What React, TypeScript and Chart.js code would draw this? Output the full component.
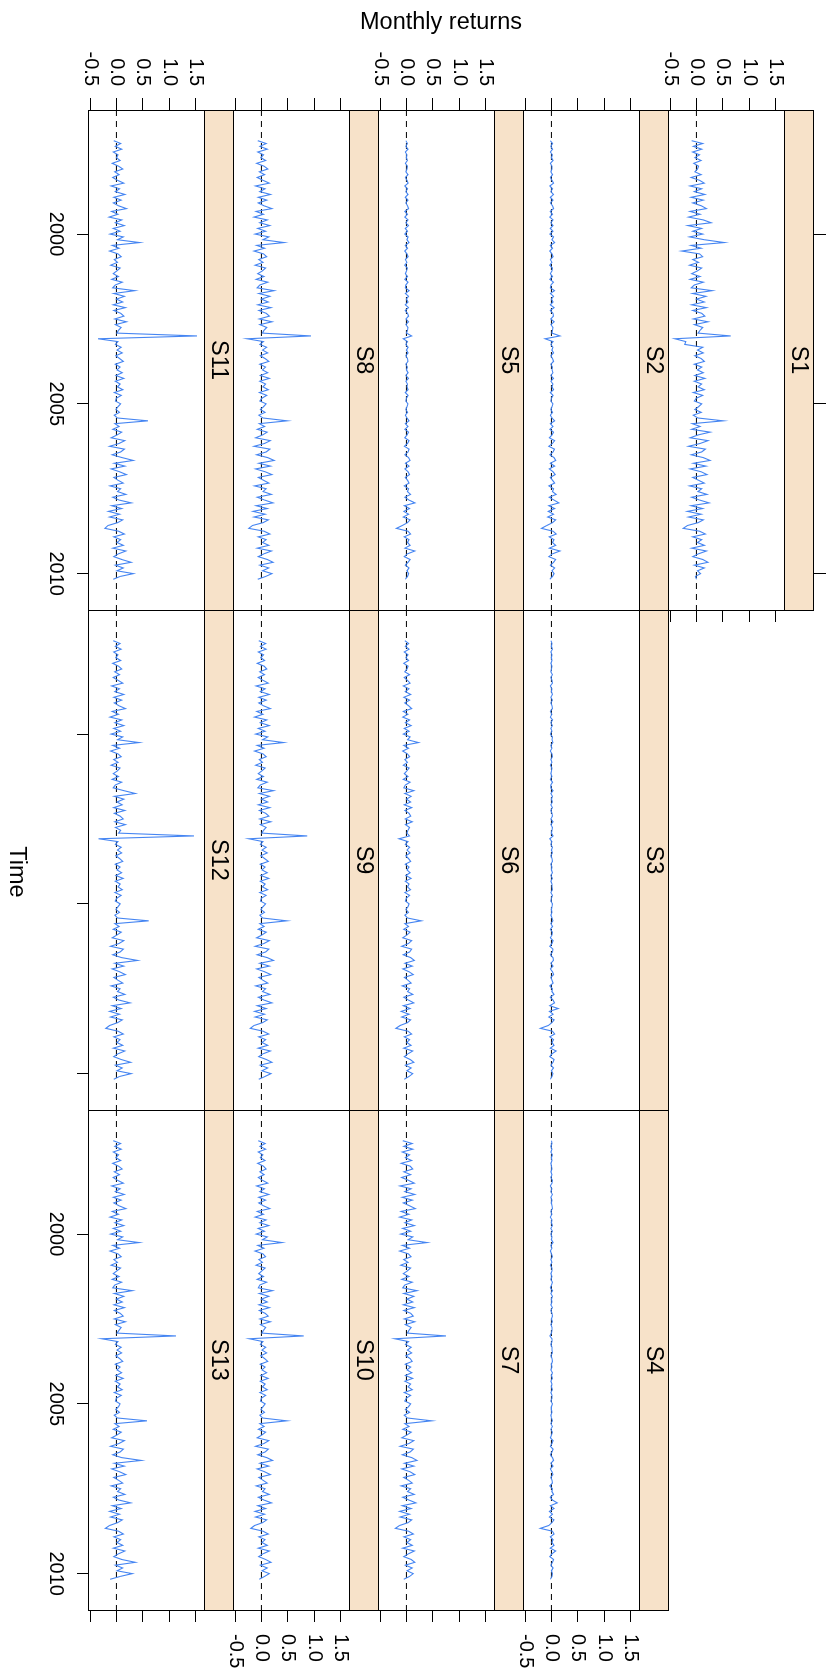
import React, { useEffect, useRef } from "react";
import { Chart, registerables } from "chart.js";

Chart.register(...registerables);

// Monthly observations, April 1997 onwards (time in decimal years)
const START_TIME = 1997.25;
const PER_YEAR = 12;

const TIME_LIMITS = [1996.346, 2011.071];
const RETURN_LIMITS = [-0.52, 1.68];

const YEAR_TICKS = [2000, 2005, 2010];
const YEAR_TICK_LABELS = ["2000", "2005", "2010"];
const RETURN_TICKS = [-0.5, 0, 0.5, 1, 1.5];
const RETURN_TICK_LABELS = ["-0.5", "0.0", "0.5", "1.0", "1.5"];

const X_TITLE = "Time";
const Y_TITLE = "Monthly returns";

const SERIES_NAMES = ["S1", "S2", "S3", "S4", "S5", "S6", "S7", "S8", "S9", "S10", "S11", "S12", "S13"];

// one row per year, April to March
const S1 = [
  -0.09, 0.12, -0.06, 0.10, -0.07, 0.06, -0.03, 0.09, -0.05, 0.04, 0.02, -0.03,
  0.09, -0.10, 0.06, 0.15, -0.12, 0.10, -0.04, 0.16, -0.10, 0.13, -0.07, 0.09,
  0.19, -0.12, 0.07, -0.15, 0.13, 0.28, -0.16, 0.10, -0.07, 0.12, -0.13, 0.15,
  0.53, -0.10, 0.09, -0.28, 0.06, 0.12, -0.07, 0.04, -0.13, 0.10, 0.02, -0.09,
  0.07, -0.12, 0.13, -0.04, -0.10, 0.30, -0.07, 0.18, 0.00, 0.15, -0.09, 0.19,
  -0.07, 0.10, 0.16, -0.06, 0.22, -0.04, 0.12, 0.07, 0.03, 0.65, -0.41, -0.20,
  -0.22, 0.12, 0.02, 0.13, -0.03, 0.09, 0.15, -0.04, 0.10, 0.02, 0.13, -0.03,
  0.16, -0.04, 0.10, 0.03, 0.15, -0.06, 0.12, 0.00, -0.04, 0.10, 0.04, -0.03,
  0.09, -0.06, 0.03, 0.51, -0.08, 0.07, -0.09, 0.26, 0.03, -0.12, 0.22, 0.07,
  -0.15, 0.17, 0.10, -0.10, 0.13, 0.26, -0.06, 0.18, -0.12, 0.09, 0.20, -0.07,
  0.04, 0.15, -0.13, 0.10, 0.03, 0.20, -0.09, 0.06, 0.24, -0.10, 0.12, -0.17,
  0.09, -0.15, 0.13, 0.03, -0.17, -0.25, 0.06, 0.17, -0.07, 0.10, 0.02, 0.15,
  -0.09, 0.19, 0.04, -0.07, 0.12, 0.22, -0.04, 0.15, 0.02, 0.08, -0.02, 0.00,
];
const S2 = [
  -0.02, 0.02, -0.01, 0.02, -0.02, 0.02, 0.00, 0.03, -0.02, 0.01, 0.01, -0.01,
  0.02, -0.02, 0.01, 0.04, -0.03, 0.02, -0.01, 0.04, -0.02, 0.03, -0.02, 0.02,
  0.04, -0.02, 0.02, -0.03, 0.03, -0.01, 0.03, -0.02, 0.03, -0.03, 0.04, 0.01,
  0.06, -0.02, 0.02, -0.03, 0.01, 0.03, -0.02, 0.01, -0.03, 0.02, 0.01, -0.02,
  0.02, -0.03, 0.04, -0.01, -0.02, 0.06, -0.02, 0.04, 0.00, 0.03, -0.02, 0.05,
  -0.02, 0.03, 0.04, -0.01, 0.05, -0.01, 0.03, 0.02, 0.01, 0.16, -0.12, 0.03,
  -0.01, 0.03, 0.01, 0.04, -0.01, 0.02, 0.04, -0.01, 0.02, 0.01, 0.03, -0.01,
  0.04, -0.01, 0.03, 0.01, 0.04, -0.02, 0.03, 0.00, -0.01, 0.03, 0.01, -0.01,
  0.02, -0.02, 0.01, 0.06, -0.02, 0.03, -0.03, 0.04, 0.01, -0.04, 0.06, 0.02,
  -0.05, 0.06, 0.03, -0.03, 0.05, 0.08, -0.02, 0.06, -0.04, 0.03, 0.07, -0.02,
  0.02, 0.06, -0.05, 0.04, 0.02, 0.09, -0.04, 0.05, 0.14, -0.05, 0.06, -0.06,
  0.04, -0.07, 0.08, 0.02, -0.09, -0.19, 0.03, 0.09, -0.04, 0.05, 0.02, 0.08,
  -0.04, 0.16, 0.02, -0.05, 0.08, 0.04, -0.02, 0.06, 0.01, 0.05, 0.02, -0.03,
];
const S3 = [
  -0.01, 0.01, 0.00, 0.02, -0.01, 0.01, 0.00, 0.01, -0.01, 0.01, 0.00, -0.01,
  0.02, -0.01, 0.01, 0.02, -0.02, 0.01, 0.00, 0.02, -0.01, 0.02, -0.01, 0.01,
  0.02, -0.02, 0.01, -0.02, 0.02, -0.01, 0.02, -0.01, 0.01, -0.02, 0.02, 0.01,
  0.03, -0.01, 0.01, -0.02, 0.01, 0.02, -0.01, 0.01, -0.02, 0.01, 0.00, -0.01,
  0.01, -0.02, 0.02, -0.01, -0.01, 0.03, -0.01, 0.02, 0.00, 0.02, -0.01, 0.02,
  -0.01, 0.01, 0.02, -0.01, 0.03, -0.01, 0.02, 0.01, 0.00, 0.03, -0.03, 0.01,
  -0.01, 0.02, 0.00, 0.02, -0.01, 0.01, 0.02, -0.01, 0.01, 0.00, 0.02, -0.01,
  0.02, -0.01, 0.01, 0.01, 0.02, -0.01, 0.02, 0.00, -0.01, 0.02, 0.01, 0.00,
  0.01, -0.01, 0.01, 0.03, -0.01, 0.02, -0.02, 0.02, 0.01, -0.02, 0.03, 0.01,
  -0.03, 0.03, 0.02, -0.02, 0.03, 0.04, -0.01, 0.03, -0.02, 0.02, 0.04, -0.01,
  0.01, 0.03, -0.03, 0.02, 0.01, 0.05, -0.02, 0.03, 0.06, -0.03, 0.13, -0.04,
  0.03, -0.05, 0.05, 0.01, -0.06, -0.21, 0.02, 0.06, -0.03, 0.04, 0.01, 0.05,
  -0.02, 0.09, 0.01, -0.03, 0.05, 0.03, -0.01, 0.04, 0.00, 0.03, 0.01, -0.02,
];
const S4 = [
  0.00, 0.01, -0.01, 0.01, -0.01, 0.02, 0.00, 0.01, -0.01, 0.00, 0.01, -0.01,
  0.01, -0.01, 0.02, 0.01, -0.02, 0.01, -0.01, 0.02, -0.01, 0.01, 0.00, 0.01,
  0.02, -0.01, 0.01, -0.02, 0.01, 0.00, 0.02, -0.01, 0.02, -0.01, 0.01, 0.00,
  0.03, -0.01, 0.01, -0.02, 0.00, 0.02, -0.01, 0.01, -0.02, 0.01, 0.01, -0.01,
  0.01, -0.01, 0.02, 0.00, -0.02, 0.02, -0.01, 0.02, 0.00, 0.01, -0.01, 0.02,
  -0.01, 0.01, 0.02, 0.00, 0.02, -0.01, 0.01, 0.01, 0.00, -0.03, 0.01, 0.01,
  -0.01, 0.01, 0.01, 0.02, -0.01, 0.01, 0.02, 0.00, 0.01, -0.01, 0.02, 0.00,
  0.02, -0.01, 0.01, 0.00, 0.02, -0.01, 0.01, 0.01, -0.01, 0.02, 0.00, 0.00,
  0.01, -0.01, 0.00, 0.02, -0.01, 0.02, -0.01, 0.02, 0.00, -0.02, 0.03, 0.01,
  -0.02, 0.03, 0.01, -0.02, 0.02, 0.04, -0.01, 0.03, -0.02, 0.01, 0.03, -0.01,
  0.01, 0.02, -0.03, 0.02, 0.01, 0.04, -0.02, 0.02, 0.11, -0.02, 0.05, -0.04,
  0.02, -0.04, 0.05, 0.01, -0.05, -0.21, 0.02, 0.05, -0.02, 0.03, 0.01, 0.05,
  -0.02, 0.08, 0.01, -0.03, 0.04, 0.02, -0.01, 0.03, 0.00, 0.02, 0.01, -0.02,
];
const S5 = [
  -0.01, 0.02, -0.01, 0.03, -0.02, 0.01, 0.00, 0.02, -0.02, 0.02, 0.01, -0.01,
  0.03, -0.02, 0.01, 0.03, -0.03, 0.02, -0.01, 0.03, -0.02, 0.03, -0.01, 0.02,
  0.04, -0.03, 0.02, -0.03, 0.03, -0.01, 0.04, -0.02, 0.02, -0.03, 0.03, 0.01,
  0.05, -0.02, 0.02, -0.03, 0.01, 0.03, -0.02, 0.01, -0.03, 0.02, 0.00, -0.02,
  0.02, -0.03, 0.03, -0.01, -0.02, 0.05, -0.02, 0.04, 0.00, 0.03, -0.02, 0.04,
  -0.02, 0.02, 0.04, -0.01, 0.04, -0.01, 0.03, 0.02, 0.00, 0.10, -0.06, 0.02,
  -0.01, 0.03, 0.00, 0.03, -0.01, 0.02, 0.03, -0.01, 0.02, 0.00, 0.03, -0.01,
  0.04, -0.01, 0.02, 0.01, 0.03, -0.02, 0.03, 0.00, -0.01, 0.03, 0.01, -0.01,
  0.02, -0.02, 0.01, 0.05, -0.02, 0.03, -0.03, 0.04, 0.01, -0.03, 0.05, 0.02,
  -0.04, 0.05, 0.03, -0.03, 0.04, 0.07, -0.02, 0.05, -0.03, 0.03, 0.06, -0.02,
  0.02, 0.05, -0.04, 0.04, 0.02, 0.08, -0.03, 0.05, 0.16, -0.04, 0.06, -0.05,
  0.04, -0.06, 0.07, 0.02, -0.08, -0.19, 0.03, 0.08, -0.04, 0.05, 0.02, 0.07,
  -0.03, 0.16, 0.02, -0.04, 0.07, 0.03, -0.02, 0.05, 0.01, 0.04, 0.02, -0.02,
];
const S6 = [
  -0.03, 0.04, -0.02, 0.05, -0.04, 0.03, -0.01, 0.04, -0.05, 0.03, 0.01, -0.03,
  0.06, -0.04, 0.02, 0.07, -0.06, 0.05, -0.02, 0.08, -0.05, 0.06, -0.03, 0.04,
  0.10, -0.06, 0.03, -0.07, 0.06, -0.02, 0.09, -0.04, 0.05, -0.06, 0.07, 0.02,
  0.23, -0.05, 0.04, -0.07, 0.02, 0.06, -0.03, 0.02, -0.06, 0.05, 0.01, -0.04,
  0.03, -0.06, 0.07, -0.02, -0.05, 0.14, -0.03, 0.09, 0.00, 0.08, -0.04, 0.10,
  -0.03, 0.05, 0.08, -0.02, 0.11, -0.02, 0.06, 0.03, 0.01, 0.06, -0.14, 0.03,
  -0.02, 0.06, 0.01, 0.07, -0.01, 0.04, 0.08, -0.02, 0.05, 0.01, 0.07, -0.01,
  0.09, -0.02, 0.05, 0.02, 0.08, -0.03, 0.06, 0.00, -0.02, 0.05, 0.03, -0.01,
  0.04, -0.03, 0.02, 0.28, -0.03, 0.04, -0.05, 0.07, 0.01, -0.07, 0.10, 0.04,
  -0.09, 0.10, 0.06, -0.06, 0.08, 0.15, -0.03, 0.11, -0.07, 0.05, 0.13, -0.04,
  0.03, 0.09, -0.08, 0.06, 0.02, 0.12, -0.05, 0.04, 0.14, -0.06, 0.07, -0.10,
  0.05, -0.09, 0.08, 0.02, -0.12, -0.20, 0.03, 0.10, -0.04, 0.06, 0.01, 0.09,
  -0.05, 0.12, 0.03, -0.04, 0.07, 0.14, -0.02, 0.09, 0.01, 0.12, 0.05, -0.04,
];
const S7 = [
  -0.07, 0.11, -0.05, 0.12, -0.08, 0.06, -0.02, 0.10, -0.10, 0.07, 0.12, -0.05,
  0.08, -0.09, 0.04, 0.15, -0.12, 0.09, -0.03, 0.16, -0.08, 0.11, -0.06, 0.06,
  0.17, -0.10, 0.05, -0.13, 0.10, -0.03, 0.15, -0.07, 0.08, -0.11, 0.12, 0.03,
  0.39, -0.08, 0.06, -0.13, 0.04, 0.09, -0.05, 0.03, -0.11, 0.08, 0.02, -0.06,
  0.05, -0.09, 0.11, -0.03, -0.07, 0.20, -0.05, 0.14, 0.01, 0.12, -0.06, 0.15,
  -0.05, 0.08, 0.13, -0.04, 0.16, -0.02, 0.09, 0.05, 0.02, 0.75, -0.22, 0.04,
  -0.02, 0.09, 0.02, 0.10, -0.01, 0.07, 0.11, -0.02, 0.08, 0.01, 0.10, -0.02,
  0.12, -0.03, 0.08, 0.03, 0.11, -0.04, 0.08, 0.00, -0.03, 0.08, 0.04, -0.02,
  0.06, -0.04, 0.02, 0.48, -0.03, 0.05, -0.07, 0.09, 0.01, -0.09, 0.14, 0.05,
  -0.12, 0.13, 0.07, -0.08, 0.10, 0.20, -0.04, 0.14, -0.09, 0.07, 0.16, -0.05,
  0.04, 0.11, -0.10, 0.08, 0.02, 0.15, -0.07, 0.05, 0.18, -0.08, 0.09, -0.13,
  0.06, -0.12, 0.10, 0.03, -0.13, -0.21, 0.04, 0.13, -0.05, 0.08, 0.01, 0.11,
  -0.07, 0.15, 0.04, -0.05, 0.09, 0.16, -0.02, 0.11, 0.01, 0.13, 0.06, -0.05,
];
const S8 = [
  -0.07, 0.09, -0.03, 0.11, -0.07, 0.04, -0.01, 0.08, -0.09, 0.05, 0.12, -0.04,
  0.06, -0.08, 0.03, 0.15, -0.11, 0.07, -0.03, 0.17, -0.06, 0.10, -0.06, 0.05,
  0.20, -0.10, 0.04, -0.14, 0.11, -0.03, 0.16, -0.07, 0.08, -0.12, 0.14, 0.03,
  0.43, -0.09, 0.06, -0.14, 0.04, 0.10, -0.05, 0.03, -0.12, 0.08, 0.02, -0.07,
  0.05, -0.10, 0.12, -0.03, -0.08, 0.24, -0.05, 0.16, 0.00, 0.13, -0.07, 0.18,
  -0.05, 0.09, 0.15, -0.04, 0.20, -0.03, 0.10, 0.05, 0.02, 0.94, -0.27, 0.04,
  -0.03, 0.10, 0.02, 0.12, -0.02, 0.07, 0.14, -0.03, 0.08, 0.02, 0.12, -0.02,
  0.15, -0.03, 0.08, 0.03, 0.13, -0.04, 0.10, 0.01, -0.03, 0.09, 0.04, -0.02,
  0.07, -0.05, 0.03, 0.49, -0.04, 0.06, -0.08, 0.11, 0.02, -0.11, 0.17, 0.06,
  -0.14, 0.16, 0.09, -0.09, 0.12, 0.24, -0.05, 0.17, -0.11, 0.07, 0.20, -0.06,
  0.04, 0.14, -0.13, 0.09, 0.03, 0.19, -0.08, 0.06, 0.22, -0.10, 0.11, -0.16,
  0.07, -0.14, 0.13, 0.03, -0.17, -0.24, 0.05, 0.16, -0.06, 0.09, 0.02, 0.14,
  -0.08, 0.19, 0.05, -0.06, 0.11, 0.22, -0.03, 0.14, 0.02, 0.20, 0.08, -0.07,
];
const S9 = [
  -0.05, 0.08, -0.02, 0.09, -0.06, 0.04, -0.01, 0.06, -0.08, 0.05, 0.10, -0.03,
  0.06, -0.06, 0.03, 0.13, -0.10, 0.07, -0.02, 0.15, -0.05, 0.09, -0.05, 0.04,
  0.17, -0.09, 0.03, -0.13, 0.10, -0.02, 0.15, -0.06, 0.07, -0.11, 0.12, 0.02,
  0.42, -0.08, 0.05, -0.13, 0.03, 0.09, -0.04, 0.02, -0.11, 0.07, 0.01, -0.06,
  0.04, -0.09, 0.11, -0.02, -0.07, 0.23, -0.04, 0.15, 0.00, 0.12, -0.06, 0.16,
  -0.04, 0.08, 0.14, -0.03, 0.18, -0.02, 0.09, 0.04, 0.01, 0.87, -0.24, 0.03,
  -0.02, 0.09, 0.01, 0.11, -0.01, 0.06, 0.13, -0.02, 0.07, 0.01, 0.11, -0.01,
  0.14, -0.02, 0.07, 0.02, 0.12, -0.03, 0.09, 0.00, -0.02, 0.08, 0.03, -0.01,
  0.06, -0.03, 0.02, 0.48, -0.03, 0.05, -0.06, 0.09, 0.01, -0.09, 0.15, 0.05,
  -0.12, 0.14, 0.08, -0.08, 0.11, 0.23, -0.03, 0.15, -0.09, 0.06, 0.18, -0.05,
  0.03, 0.12, -0.11, 0.08, 0.02, 0.16, -0.06, 0.05, 0.20, -0.08, 0.09, -0.13,
  0.06, -0.12, 0.11, 0.02, -0.14, -0.21, 0.03, 0.14, -0.05, 0.08, 0.01, 0.12,
  -0.06, 0.17, 0.03, -0.05, 0.09, 0.20, -0.02, 0.12, 0.01, 0.18, 0.07, -0.05,
];
const S10 = [
  -0.06, 0.07, -0.03, 0.08, -0.06, 0.03, -0.02, 0.07, -0.07, 0.04, 0.09, -0.03,
  0.05, -0.06, 0.02, 0.12, -0.09, 0.06, -0.03, 0.14, -0.05, 0.08, -0.05, 0.04,
  0.16, -0.08, 0.04, -0.12, 0.09, -0.03, 0.14, -0.06, 0.06, -0.10, 0.11, 0.02,
  0.39, -0.07, 0.05, -0.12, 0.03, 0.08, -0.05, 0.02, -0.10, 0.07, 0.01, -0.05,
  0.04, -0.08, 0.10, -0.03, -0.06, 0.21, -0.04, 0.14, 0.00, 0.11, -0.05, 0.15,
  -0.04, 0.07, 0.13, -0.03, 0.17, -0.02, 0.08, 0.04, 0.01, 0.80, -0.23, 0.03,
  -0.02, 0.08, 0.01, 0.10, -0.01, 0.06, 0.12, -0.02, 0.07, 0.01, 0.10, -0.01,
  0.13, -0.02, 0.07, 0.02, 0.11, -0.03, 0.08, 0.00, -0.02, 0.07, 0.03, -0.01,
  0.06, -0.03, 0.02, 0.48, -0.03, 0.05, -0.06, 0.08, 0.01, -0.08, 0.14, 0.05,
  -0.11, 0.13, 0.07, -0.07, 0.10, 0.21, -0.03, 0.14, -0.08, 0.06, 0.17, -0.05,
  0.03, 0.11, -0.10, 0.07, 0.02, 0.15, -0.06, 0.05, 0.19, -0.07, 0.08, -0.12,
  0.06, -0.11, 0.10, 0.02, -0.13, -0.20, 0.03, 0.13, -0.05, 0.07, 0.01, 0.11,
  -0.06, 0.15, 0.03, -0.05, 0.08, 0.18, -0.02, 0.11, 0.01, 0.15, 0.06, -0.04,
];
const S11 = [
  -0.05, 0.08, -0.02, 0.10, -0.06, 0.03, 0.00, 0.07, -0.08, 0.04, 0.12, -0.03,
  0.05, -0.07, 0.02, 0.14, -0.10, 0.06, -0.02, 0.16, -0.05, 0.09, -0.06, 0.04,
  0.19, -0.09, 0.03, -0.14, 0.10, -0.02, 0.15, -0.06, 0.07, -0.12, 0.13, 0.02,
  0.44, -0.08, 0.05, -0.13, 0.03, 0.09, -0.04, 0.02, -0.11, 0.07, 0.01, -0.06,
  0.04, -0.09, 0.11, -0.02, -0.07, 0.35, -0.05, 0.15, 0.00, 0.12, -0.06, 0.17,
  -0.05, 0.08, 0.14, -0.03, 0.19, -0.02, 0.09, 0.04, 0.01, 1.53, -0.35, 0.03,
  -0.02, 0.09, 0.01, 0.11, -0.01, 0.06, 0.13, -0.02, 0.07, 0.01, 0.11, -0.01,
  0.14, -0.02, 0.07, 0.02, 0.12, -0.04, 0.09, 0.00, -0.02, 0.08, 0.03, -0.01,
  0.06, -0.04, 0.02, 0.60, -0.03, 0.05, -0.07, 0.10, 0.01, -0.10, 0.16, 0.05,
  -0.13, 0.15, 0.08, -0.08, 0.11, 0.32, -0.04, 0.16, -0.10, 0.06, 0.19, -0.05,
  0.03, 0.13, -0.12, 0.08, 0.02, 0.18, -0.07, 0.05, 0.28, -0.09, 0.10, -0.15,
  0.06, -0.13, 0.12, 0.02, -0.16, -0.22, 0.04, 0.15, -0.05, 0.08, 0.01, 0.13,
  -0.07, 0.18, 0.04, -0.05, 0.10, 0.28, -0.02, 0.13, 0.01, 0.32, 0.07, -0.06,
];
const S12 = [
  -0.06, 0.07, -0.02, 0.09, -0.05, 0.03, -0.01, 0.08, -0.07, 0.04, 0.10, -0.03,
  0.06, -0.06, 0.03, 0.12, -0.09, 0.06, -0.03, 0.14, -0.05, 0.10, -0.04, 0.05,
  0.17, -0.08, 0.04, -0.12, 0.10, -0.03, 0.14, -0.05, 0.08, -0.10, 0.12, 0.02,
  0.43, -0.07, 0.06, -0.11, 0.03, 0.09, -0.05, 0.03, -0.10, 0.07, 0.02, -0.06,
  0.04, -0.08, 0.10, -0.02, -0.06, 0.14, 0.36, -0.04, 0.14, 0.01, 0.11, -0.05,
  0.16, -0.04, 0.07, 0.13, -0.03, 0.17, -0.02, 0.08, 0.04, 1.47, -0.34, 0.03,
  -0.02, 0.09, 0.02, 0.10, -0.01, 0.06, 0.12, -0.02, 0.07, 0.01, 0.10, -0.01,
  0.13, -0.02, 0.07, 0.03, 0.11, -0.03, 0.09, 0.01, -0.02, 0.07, 0.03, -0.01,
  0.06, -0.03, 0.02, 0.61, -0.03, 0.05, -0.06, 0.09, 0.01, -0.08, 0.14, 0.05,
  -0.11, 0.13, 0.07, -0.07, 0.10, 0.40, -0.03, 0.14, -0.08, 0.06, 0.17, -0.05,
  0.03, 0.12, -0.10, 0.07, 0.02, 0.16, -0.06, 0.05, 0.26, -0.08, 0.09, -0.13,
  0.06, -0.11, 0.11, 0.02, -0.13, -0.20, 0.03, 0.13, -0.05, 0.07, 0.01, 0.12,
  -0.06, 0.16, 0.03, -0.05, 0.09, 0.27, -0.02, 0.11, 0.01, 0.28, 0.06, -0.05,
];
const S13 = [
  -0.06, 0.08, -0.03, 0.09, -0.06, 0.04, -0.01, 0.08, -0.07, 0.04, 0.11, -0.04,
  0.06, -0.06, 0.02, 0.13, -0.09, 0.07, -0.02, 0.15, -0.06, 0.09, -0.05, 0.05,
  0.18, -0.08, 0.04, -0.12, 0.10, -0.03, 0.14, -0.06, 0.08, -0.11, 0.12, 0.02,
  0.43, -0.07, 0.06, -0.12, 0.03, 0.09, -0.05, 0.02, -0.10, 0.08, 0.01, -0.06,
  0.05, -0.08, 0.10, -0.03, -0.07, 0.30, -0.04, 0.14, 0.00, 0.11, -0.05, 0.15,
  -0.04, 0.07, 0.13, -0.04, 0.17, -0.02, 0.09, 0.05, 0.01, 1.13, -0.28, 0.03,
  -0.02, 0.09, 0.01, 0.10, -0.01, 0.06, 0.12, -0.02, 0.07, 0.01, 0.10, -0.01,
  0.13, -0.02, 0.07, 0.02, 0.11, -0.04, 0.09, 0.00, -0.02, 0.07, 0.04, -0.01,
  0.06, -0.04, 0.02, 0.58, -0.03, 0.05, -0.06, 0.09, 0.01, -0.09, 0.15, 0.05,
  -0.11, 0.13, 0.07, -0.07, 0.10, 0.47, -0.04, 0.15, -0.09, 0.06, 0.18, -0.05,
  0.04, 0.12, -0.10, 0.08, 0.02, 0.16, -0.06, 0.05, 0.27, -0.08, 0.09, -0.13,
  0.06, -0.11, 0.11, 0.02, -0.13, -0.21, 0.04, 0.13, -0.05, 0.08, 0.01, 0.12,
  -0.06, 0.16, 0.04, -0.05, 0.10, 0.36, -0.02, 0.12, 0.01, 0.30, 0.07, -0.12,
];

const SERIES = [S1, S2, S3, S4, S5, S6, S7, S8, S9, S10, S11, S12, S13];

// ---- look ----
const FONT = "'Liberation Sans', Arial, Helvetica, sans-serif";
const LINE_BLUE = "#4585f2";
const STRIP_FILL = "#f7e2c9";
const TICK_FONT_SIZE = 20;
const STRIP_FONT_SIZE = 23.5;
const TITLE_FONT_SIZE = 23.5;

// ---- layout, drawn upright (1672 x 827) and then turned a quarter clockwise ----
const FRAME_W = 1672;
const FRAME_H = 827;
const COL_LEFT = [110, 610, 1110];
const PANEL_W = 500;
const PANEL_H = 116;
const STRIP_H = 29;
const ROW_TOP = 13;
const ROW_PITCH = 145;
const TICK_LEN = 12;
const MARGIN = { left: 90, right: 80, top: 50, bottom: 70 };

// strip + frame for each lattice panel
const latticePanel = {
  id: "latticePanel",
  afterDraw(chart: any, _args: any, opts: any) {
    const { ctx, chartArea: a } = chart;
    ctx.save();
    ctx.fillStyle = STRIP_FILL;
    ctx.fillRect(a.left, a.top - STRIP_H, a.right - a.left, STRIP_H);
    ctx.strokeStyle = "#000";
    ctx.lineWidth = 1;
    ctx.strokeRect(a.left + 0.5, a.top - STRIP_H + 0.5, a.right - a.left, STRIP_H);
    ctx.strokeRect(a.left + 0.5, a.top + 0.5, a.right - a.left, a.bottom - a.top);
    ctx.fillStyle = "#000";
    ctx.font = `${STRIP_FONT_SIZE}px ${FONT}`;
    ctx.textAlign = "center";
    ctx.textBaseline = "middle";
    ctx.fillText(opts.label, (a.left + a.right) / 2, a.top - STRIP_H / 2 + 1);
    ctx.restore();
  },
};

function panelPlace(index: number) {
  const row = index === 0 ? 0 : 1 + Math.floor((index - 1) / 3);
  const col = index === 0 ? 0 : (index - 1) % 3;
  return { row, col };
}

function Panel({ index }: { index: number }) {
  const ref = useRef<HTMLCanvasElement>(null);
  const { row, col } = panelPlace(index);
  const panelTop = ROW_TOP + row * ROW_PITCH + STRIP_H;
  const left = COL_LEFT[col] - MARGIN.left;
  const top = panelTop - MARGIN.top;
  const w = PANEL_W + MARGIN.left + MARGIN.right;
  const h = PANEL_H + MARGIN.top + MARGIN.bottom;

  useEffect(() => {
    if (!ref.current) return;
    const showLeft = col === 0;
    const showRight = col === 2 || row === 0;
    const showBottom = row === 4;
    const showTop = row === 0;
    const tickFont = { family: FONT, size: TICK_FONT_SIZE };

    const tickGrid = (len: number) => ({
      display: true,
      drawOnChartArea: false,
      drawTicks: true,
      tickLength: len,
      color: "#000",
      lineWidth: 1,
    });

    const returnAxis = (position: string, show: boolean, labels: boolean, size: number) => ({
      type: "linear",
      position,
      display: show,
      min: RETURN_LIMITS[0],
      max: RETURN_LIMITS[1],
      afterBuildTicks: (s: any) => {
        s.ticks = RETURN_TICKS.map((value) => ({ value }));
      },
      afterFit: (s: any) => {
        if (show) s.width = size;
      },
      grid: tickGrid(TICK_LEN),
      border: { display: false },
      ticks: {
        display: labels,
        autoSkip: false,
        padding: 12,
        color: "#000",
        font: tickFont,
        callback: (_v: any, i: number) => RETURN_TICK_LABELS[i],
      },
    });

    const timeAxis = (position: string, show: boolean, labels: boolean, size: number, len: number) => ({
      type: "linear",
      position,
      display: show,
      min: TIME_LIMITS[0],
      max: TIME_LIMITS[1],
      afterBuildTicks: (s: any) => {
        s.ticks = YEAR_TICKS.map((value) => ({ value }));
      },
      afterFit: (s: any) => {
        if (show) s.height = size;
      },
      grid: tickGrid(len),
      border: { display: false },
      ticks: {
        display: labels,
        autoSkip: false,
        maxRotation: 0,
        minRotation: 0,
        padding: 9,
        color: "#000",
        font: tickFont,
        callback: (_v: any, i: number) => YEAR_TICK_LABELS[i],
      },
    });

    const values = SERIES[index];
    const points = values.map((v, i) => ({ x: START_TIME + i / PER_YEAR, y: v }));

    const chart = new Chart(ref.current, {
      type: "line",
      data: {
        datasets: [
          {
            data: points,
            borderColor: LINE_BLUE,
            borderWidth: 1.1,
            pointRadius: 0,
            fill: false,
            tension: 0,
            xAxisID: "x",
            yAxisID: "y",
          },
          {
            data: [
              { x: TIME_LIMITS[0], y: 0 },
              { x: TIME_LIMITS[1], y: 0 },
            ],
            borderColor: "#000",
            borderWidth: 1,
            borderDash: [6, 5],
            pointRadius: 0,
            fill: false,
            xAxisID: "x",
            yAxisID: "y",
          },
        ],
      },
      options: {
        animation: false,
        responsive: false,
        devicePixelRatio: 1,
        events: [],
        layout: {
          padding: {
            left: showLeft ? 0 : MARGIN.left,
            right: showRight ? 0 : MARGIN.right,
            top: showTop ? 0 : MARGIN.top,
            bottom: showBottom ? 0 : MARGIN.bottom,
          },
        },
        plugins: {
          legend: { display: false },
          tooltip: { enabled: false },
          latticePanel: { label: SERIES_NAMES[index] },
        },
        scales: {
          x: timeAxis("bottom", showBottom, col % 2 === 0, MARGIN.bottom, TICK_LEN),
          xTop: timeAxis("top", showTop, col % 2 === 1, MARGIN.top, STRIP_H + TICK_LEN),
          y: returnAxis("left", showLeft, row % 2 === 0, MARGIN.left),
          yRight: returnAxis("right", showRight, row % 2 === 1, MARGIN.right),
        },
      } as any,
      plugins: [latticePanel],
    } as any);
    return () => chart.destroy();
  }, [index, row, col]);

  return (
    <canvas
      ref={ref}
      width={w}
      height={h}
      style={{ position: "absolute", left, top, width: w, height: h }}
    />
  );
}

const titleStyle: React.CSSProperties = {
  position: "absolute",
  fontFamily: FONT,
  fontSize: TITLE_FONT_SIZE,
  lineHeight: "27px",
  whiteSpace: "nowrap",
  color: "#000",
};

export default function App() {
  return (
    <div
      style={{
        position: "absolute",
        left: 0,
        top: 0,
        width: FRAME_H,
        height: FRAME_W,
        background: "#fff",
        overflow: "hidden",
      }}
    >
      <div
        style={{
          position: "absolute",
          left: 0,
          top: 0,
          width: FRAME_W,
          height: FRAME_H,
          transformOrigin: "0 0",
          transform: `translateX(${FRAME_H}px) rotate(90deg)`,
        }}
      >
        {SERIES.map((_, i) => (
          <Panel key={SERIES_NAMES[i]} index={i} />
        ))}
        <div style={{ ...titleStyle, left: 21, top: 386, transform: "translate(-50%, -50%) rotate(-90deg)" }}>
          {Y_TITLE}
        </div>
        <div style={{ ...titleStyle, left: 872, top: 809, transform: "translate(-50%, -50%)" }}>
          {X_TITLE}
        </div>
      </div>
    </div>
  );
}
